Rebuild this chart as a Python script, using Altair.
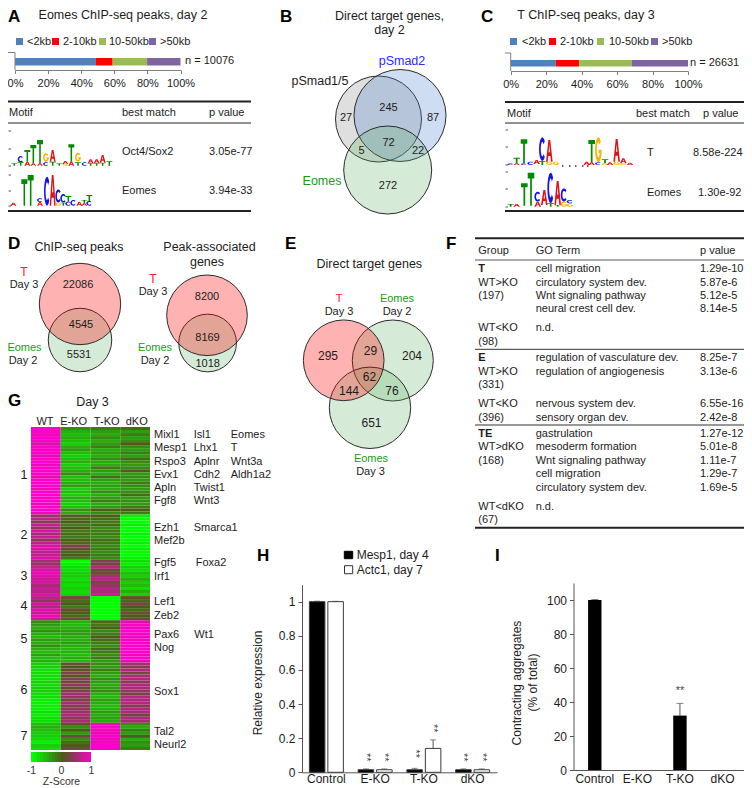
import math
import altair as alt
import pandas as pd

FONT = "Liberation Sans"
INK = "#1c1c1c"
GREY = "#7f7f7f"
AXIS = "#555555"
RED_T = "#ff2020"
GREEN_T = "#1a9a1a"
BLUE_T = "#2a2aff"

# ---------- values ----------
dist_labels = ["<2kb", "2-10kb", "10-50kb", ">50kb"]
dist_colors = ["#4f81bd", "#ff0000", "#9bbb59", "#8064a2"]
dist_eomes = [48.9, 10.1, 20.8, 20.2]
dist_t = [25.4, 13.1, 29.9, 31.6]
pct_ticks = [0, 20, 40, 60, 80, 100]

bar_groups = ["Control", "E-KO", "T-KO", "dKO"]
mesp1 = [1.0, 0.015, 0.015, 0.015]
actc1 = [1.0, 0.015, 0.14, 0.015]
mesp1_err = [1.003, 0.02, 0.023, 0.02]
actc1_err = [1.002, 0.02, 0.19, 0.02]
h_stars_mesp = [None, 0.10, 0.12, 0.10]
h_stars_actc = [None, 0.10, 0.27, 0.10]
contracting = [100, 0, 32, 0]
contracting_err = [100.3, None, 39.2, None]
i_stars = [None, None, 47.6, None]

heat_cols = ["WT", "E-KO", "T-KO", "dKO"]
heat_clusters = [
    # cluster 1
    [[10,10,9,10,10,8,10,10,10,9,10,10,9,10,10,10,8,10,10,10,9,10,10,10,10,9,10,10,9],
     [-3,-5,-6,-5,-6,-7,-5,-4,-6,-7,-6,-5,-7,-6,-5,-3,-6,-6,-5,-4,-7,-6,-7,-5,-6,-7,-6,-3,-5],
     [-2,-4,-5,-3,-5,-4,-2,-5,-4,-5,-3,-5,-5,-2,-4,-5,-1,-4,-5,-4,-5,-3,-5,-4,-2,-5,-4,0,-3],
     [-1,-4,-2,-4,-3,0,-3,-4,-2,-4,-1,-3,-4,-3,1,-4,-3,-4,-2,-3,-4,-3,-1,-4,-3,-4,-2,0,-2]],
    # cluster 2
    [[4,6,3,7,4,8,5,7,3,7,8,8,6,7,8],
     [1,-1,0,-2,0,-2,-1,-2,0,-1,3,1,-1,0,-2],
     [0,-1,-2,-1,-3,-2,-2,-3,-1,-2,-3,-2,-3,-2,-3],
     [-9,-10,-10,-9,-10,-10,-9,-10,-10,-9,-10,-9,-10,-10,-9]],
    # cluster 3
    [[5,4,7,8,9,8,7,8,5,7,6,8],
     [-10,-9,-8,-8,-7,-7,-8,-7,-8,-7,-8,-7],
     [3,2,6,1,2,5,6,2,4,6,5,7],
     [-8,-9,-7,-8,-6,-7,-5,-7,-6,-8,-5,-7]],
    # cluster 4
    [[6,3,7,5,8,6,9,7],
     [2,-1,0,-2,1,0,-1,2],
     [-10,-10,-10,-10,-10,-10,-10,-10],
     [1,-1,2,0,-1,2,0,1]],
    # cluster 5
    [[-3,-4,-5,-3,-5,-6,-4,-5,-3,-5,-6,-4,-6,-5],
     [-5,-6,-5,-4,-4,-5,-5,-4,-5,-6,-5,-6,-5,-6],
     [-1,-2,0,-3,-2,0,-1,-2,-3,-1,-2,-3,-2,-4],
     [8,10,9,10,10,9,10,10,10,10,10,9,10,9]],
    # cluster 6
    [[-7,-7,-8,-8,-8,-8,-7,-8,-7,-7,-8,-8,-9,-9,-9,-9,-8,-9,-8,-8],
     [2,0,1,3,0,3,2,4,1,3,5,4,2,5,3,4,4,6,3,5],
     [-3,-4,-2,-4,-5,-3,-4,-5,-4,-3,-5,-6,-4,-5,-6,-5,-4,-5,-4,-5],
     [5,3,6,2,5,6,3,6,5,4,2,6,5,6,3,6,5,2,6,5]],
    # cluster 7
    [[-6,-5,-6,-7,-7,-8,-9,-7,-8],
     [1,-3,0,-4,2,-3,-1,0,2],
     [9,10,9,9,10,9,9,10,9],
     [-3,-5,-2,-4,0,-5,-3,-4,-2]],
]
colorbar_z = [-1, -.9, -.8, -.7, -.6, -.5, -.4, -.3, -.2, -.1, 0, .1, .2, .3, .4, .5, .6, .7, .8, .9]

venn_b_values = ["27", "245", "87", "72", "5", "22", "272"]
venn_e_values = ["295", "29", "204", "62", "144", "76", "651"]

f_groups = ["T", "WT>KO", "(197)", "WT<KO", "(98)", "E", "WT>KO", "(331)", "WT<KO", "(396)",
            "TE", "WT>dKO", "(168)", "WT<dKO", "(67)"]
f_terms = ["cell migration", "circulatory system dev.", "Wnt signaling pathway", "neural crest cell dev.",
           "n.d.", "regulation of vasculature dev.", "regulation of angiogenesis",
           "nervous system dev.", "sensory organ dev.", "gastrulation", "mesoderm formation",
           "Wnt signaling pathway", "cell migration", "circulatory system dev.", "n.d."]
f_pvalues = ["1.29e-10", "5.87e-6", "5.12e-5", "8.14e-5", "", "8.25e-7", "3.13e-6", "6.55e-16",
             "2.42e-8", "1.27e-12", "5.01e-8", "1.11e-7", "1.29e-7", "1.69e-5", ""]

genes_col1 = ["Mixl1", "Mesp1", "Rspo3", "Evx1", "Apln", "Fgf8", "Ezh1", "Mef2b", "Fgf5", "Irf1",
              "Lef1", "Zeb2", "Pax6", "Nog", "Sox1", "Tal2", "Neurl2"]
genes_col2 = ["Isl1", "Lhx1", "Aplnr", "Cdh2", "Twist1", "Wnt3", "Smarca1", "Foxa2", "Wt1"]
genes_col3 = ["Eomes", "T", "Wnt3a", "Aldh1a2"]

# ---------- layout of the page (reference pixels) ----------
PAGE_W, PAGE_H = 736, 780
CX = alt.Scale(domain=[8, 8 + PAGE_W], range=[0, PAGE_W], nice=False, zero=False)
CY = alt.Scale(domain=[8, 8 + PAGE_H], range=[0, PAGE_H], nice=False, zero=False)


def cx(f="x"):
    return alt.X(f"{f}:Q", scale=CX, axis=None)


def cy(f="y"):
    return alt.Y(f"{f}:Q", scale=CY, axis=None)


text_rows = {}


def txt(labels, xs, ys, size=11, color=INK, align="left", weight="normal", angle=0):
    if isinstance(labels, str):
        labels, xs, ys = [labels], [xs], [ys]
    if not isinstance(xs, (list, tuple)):
        xs = [xs] * len(labels)
    if not isinstance(ys, (list, tuple)):
        ys = [ys] * len(labels)
    for l, x, y in zip(labels, xs, ys):
        text_rows.setdefault((align, weight), []).append(
            dict(t=l, x=x, y=y, fs=size, c=color, a=angle))


segs = []


def seg(x1, y1, x2, y2, color=INK, w=1.0):
    segs.append(dict(x=x1, y=y1, x2=x2, y2=y2, c=color, w=w))


rects = []


def rect(x1, y1, x2, y2, fill, stroke="transparent"):
    rects.append(dict(x=x1, y=y1, x2=x2, y2=y2, c=fill, s=stroke))


# panel letters
for L, x, y in [("A", 8, 17), ("B", 280, 17), ("C", 481, 17), ("D", 8, 244), ("E", 285, 244),
                ("F", 446, 244), ("G", 8, 401), ("H", 257, 556), ("I", 495, 556)]:
    txt(L, x, y, size=17, color="#000000", weight="bold")

# titles
TS = 12.5
txt("Eomes ChIP-seq peaks, day 2", 123, 15, TS, align="center")
txt("T ChIP-seq peaks, day 3", 586, 15, TS, align="center")
txt(["Direct target genes,", "day 2"], 389.5, [16, 30], TS, align="center")
txt("ChIP-seq peaks", 79, 247, TS, align="center")
txt(["Peak-associated", "genes"], [209.5, 207], [247, 262], TS, align="center")
txt("Direct target genes", 369.3, 264, TS, align="center")
txt("Day 3", 92.5, 402, TS, align="center")

# distance legends and brackets of A / C
LS = 11
for xs, lx, ly in [([16, 52, 99, 149], [27, 63, 109, 160], 41.5), ([510, 549, 597, 651], [522, 560, 609, 662], 41.5)]:
    for sx, col in zip(xs, dist_colors):
        rect(sx, ly - 3.5, sx + 7, ly + 3.5, col)
    txt(dist_labels, lx, ly + 0.5, LS)
txt("n = 10076", 185, 61, 11)
txt("n = 26631", 690, 63, 11)
for xa, xb, ya, yb in [(15, 8, 52.5, 70), (510.7, 505, 53, 71)]:
    seg(xb, ya, xa, ya, GREY)
    seg(xa, ya, xa, yb, GREY)

# tables of A / C
for y, w in [(101.5, 2), (123, 1), (211, 2)]:
    seg(8, y, 251, y, "#222222", w)
    seg(505, y + (0.5 if y < 110 else 0), 744, y + (0.5 if y < 110 else 0), "#222222", w)
txt(["Motif", "best match", "p value"], [9, 122, 209], 113, 11)
txt(["Oct4/Sox2", "3.05e-77"], [122, 209], 152, 11)
txt(["Eomes", "3.94e-33"], [122, 209], 191, 11)
txt(["Motif", "best match", "p value"], [507, 636, 703], 114, 11)
txt(["T", "8.58e-224"], [647, 693], 153, 11)
txt(["Eomes", "1.30e-92"], [647, 698], 193, 11)

# venn labels
txt(venn_b_values, [346, 388.5, 433, 388.5, 361.5, 418, 388], [118, 108, 118, 143, 150.5, 150.5, 186], 11, align="center")
txt("pSmad1/5", 320, 81, TS, align="center")
txt("pSmad2", 402, 61, TS, BLUE_T, align="center")
txt("Eomes", 322, 181, TS, GREEN_T, align="center")

txt(["22086", "4545", "5531"], [78, 81, 79], [285, 325, 355], 11, align="center")
txt(["8200", "8169", "1018"], [207, 207.5, 207.7], [297, 338, 364], 11, align="center")
txt("T", 24, 272, 12, RED_T, align="center")
txt(["Day 3", "Day 2"], [24, 23], [285, 361], 11, align="center")
txt("Eomes", 24.5, 348, 11, GREEN_T, align="center")
txt("T", 153, 279, 12, RED_T, align="center")
txt(["Day 3", "Day 2"], [153, 155], [292, 361], 11, align="center")
txt("Eomes", 155, 348, 11, GREEN_T, align="center")

txt(venn_e_values, [328, 370.5, 412, 369.5, 349, 392, 371.5], [356, 351, 356, 376.5, 391, 391, 423], 12, align="center")
txt("T", 339, 299, 11, RED_T, align="center")
txt("Eomes", 397, 299, 11, GREEN_T, align="center")
txt(["Day 3", "Day 2"], [339, 397], 312, 11, align="center")
txt("Eomes", 371, 459, 11, GREEN_T, align="center")
txt("Day 3", 370.5, 472, 11, align="center")

# table F
F_TS = 11
seg(475, 238.3, 744, 238.3, "#222222", 2)
seg(475, 260, 744, 260, "#555555", 1)
seg(475, 349.3, 744, 349.3, "#333333", 1)
seg(475, 425, 744, 425, "#333333", 1.2)
seg(475, 527.7, 744, 527.7, "#222222", 2)
txt(["Group", "GO Term", "p value"], [478.3, 535.7, 700], 250.7, F_TS)
f_group_y = [269.3, 283, 296, 328.3, 341.7, 358.3, 371.7, 385, 404, 417.7, 434, 447.3, 460.7, 506.7, 520]
f_term_y = [269.3, 283, 296, 309.3, 328.3, 358.3, 371.7, 404, 417.7, 434, 447.3, 460.7, 474.3, 487.7, 506.7]
for lab, y in zip(f_groups, f_group_y):
    txt(lab, 478.3, y, F_TS, weight="bold" if lab in ("T", "E", "TE") else "normal")
txt(f_terms, 535.7, f_term_y, F_TS)
txt(f_pvalues, 700, f_term_y, F_TS)

# heatmap labels
txt(heat_cols, [45, 73.7, 106.7, 136.7], 421.7, 11, align="center")
txt(["1", "2", "3", "4", "5", "6", "7"], 24, [475, 535, 575.7, 606, 639, 690, 736], 12.5, align="center")
GS = 11
col1_y = [435, 448.3, 461.7, 475, 488, 501.3, 527.7, 541, 563.3, 576.7, 602.3, 615.7, 634.7, 648.3, 691.7, 731.7, 745.3]
txt(genes_col1, 154, col1_y, GS)
txt(genes_col2, [193.7] * 7 + [195.7, 194.3], [435, 448.3, 461.7, 475, 488, 501.3, 527.7, 563.3, 634.7], GS)
txt(genes_col3, 230.7, [435, 448.3, 461.7, 475], GS)

# panel H / I extras
rect(344.3, 551.3, 352.7, 558.7, "#000000", "#000000")
rect(344.5, 565.7, 352.7, 573.7, "#ffffff", "#333333")
txt(["Mesp1, day 4", "Actc1, day 7"], 356.7, [555, 570], 12)
txt("Relative expression", 258, 683, 12, align="center", angle=270)
txt("Contracting aggregates", 517, 683, 12, align="center", angle=270)
txt("(% of total)", 533, 682.5, 12, align="center", angle=270)


# ---------- sequence logos: glyph outlines stretched to each letter's height ----------
def arc_pts(rx, ry, a0, a1, n=14):
    return [(0.5 + rx * math.cos(math.radians(a0 + (a1 - a0) * i / n)),
             0.5 + ry * math.sin(math.radians(a0 + (a1 - a0) * i / n))) for i in range(n + 1)]


GLYPHS = {
    "T": [[(0, 0), (1, 0), (1, .18), (.63, .18), (.63, 1), (.37, 1), (.37, .18), (0, .18)]],
    "A": [[(.36, 0), (.64, 0), (1, 1), (.75, 1), (.66, .74), (.34, .74), (.25, 1), (0, 1)],
          [(.5, .22), (.4, .56), (.6, .56)]],
    "C": [arc_pts(.5, .5, -42, -318) + arc_pts(.24, .31, -318, -42)],
    "G": [arc_pts(.5, .5, -42, -350) + [(1, .5), (.55, .5), (.55, .64), (.76, .64)] + arc_pts(.24, .31, -340, -42)],
}
LOGO_COL = {"T": "#008a00", "A": "#e01414", "C": "#1414e6", "G": "#ffb000"}


def glyph_path(letter, aspect):
    out = []
    for poly in GLYPHS[letter]:
        pts = [f"{(x - .5) * 2 * aspect:.3f},{(y - .5) * 2:.3f}" for x, y in poly]
        out.append("M" + "L".join(pts) + "Z")
    return "".join(out)


# letter, column centre, top and bottom, in 3x-zoomed reference pixels
logo_a1 = [("T", 43, 190, 197), ("C", 62, 168, 187), ("T", 62, 187, 197), ("T", 82, 150, 185), ("A", 82, 185, 197),
           ("T", 100, 135, 190), ("A", 100, 190, 197), ("T", 120, 120, 190), ("A", 120, 190, 197),
           ("G", 138, 160, 185), ("C", 138, 187, 197), ("A", 158, 150, 185), ("T", 158, 185, 197),
           ("T", 178, 190, 197), ("A", 196, 183, 192), ("G", 196, 192, 197), ("T", 214, 133, 185), ("A", 214, 185, 197),
           ("G", 234, 158, 185), ("T", 234, 187, 197), ("C", 254, 187, 197), ("A", 272, 178, 190), ("T", 272, 190, 197),
           ("A", 290, 178, 190), ("T", 290, 190, 197), ("A", 308, 165, 188), ("T", 308, 188, 197), ("T", 328, 184, 197)]
logo_a2 = [("A", 40, 308, 317), ("T", 73, 238, 317), ("T", 92, 225, 317), ("C", 120, 295, 306), ("A", 120, 306, 317),
           ("C", 141, 230, 317), ("A", 158, 225, 317), ("C", 175, 268, 308), ("G", 175, 308, 317),
           ("C", 190, 282, 308), ("T", 190, 308, 317), ("T", 205, 288, 305), ("C", 205, 305, 317),
           ("C", 220, 300, 317), ("A", 238, 306, 317), ("T", 253, 300, 310), ("A", 253, 310, 317),
           ("T", 268, 285, 303), ("C", 268, 303, 317)]
logo_c1 = [("C", 62, 490, 495), ("T", 80, 473, 490), ("A", 80, 490, 495), ("T", 102, 418, 490), ("C", 102, 490, 495),
           ("C", 122, 485, 495), ("A", 140, 480, 492), ("C", 157, 412, 483), ("T", 157, 483, 495),
           ("A", 178, 420, 485), ("G", 178, 485, 495), ("G", 198, 485, 495),
           ("A", 290, 485, 495), ("T", 305, 420, 487), ("A", 305, 487, 495), ("G", 325, 412, 487), ("C", 325, 487, 495),
           ("T", 345, 478, 490), ("G", 345, 490, 495), ("A", 360, 487, 495), ("A", 380, 417, 485), ("G", 380, 485, 495),
           ("A", 400, 475, 490), ("G", 400, 490, 495), ("A", 420, 488, 495)]
logo_c2 = [("T", 62, 612, 620), ("A", 80, 612, 620), ("T", 103, 550, 617), ("T", 123, 518, 617),
           ("C", 143, 575, 605), ("A", 143, 605, 620), ("A", 163, 570, 615), ("C", 182, 518, 610), ("T", 182, 610, 620),
           ("A", 203, 543, 615), ("T", 203, 615, 620), ("C", 222, 565, 605), ("G", 222, 605, 620),
           ("G", 240, 610, 620), ("C", 240, 600, 610)]

logo_rows = []
for letters, x0, y0, fx in [(logo_a1, 0, 100, 5.9), (logo_a2, 0, 100, 6.0), (logo_c1, 490, 0, 6.6), (logo_c2, 490, 0, 6.6)]:
    for L, xc, top, bot in letters:
        h = max((bot - top) / 3, 1.0)
        logo_rows.append(dict(x=x0 + xc / 3, y=y0 + (top + bot) / 6, path=glyph_path(L, fx / h), s=h * h, c=LOGO_COL[L]))

# small axes beside the logos, and the empty columns of the T motif
for ax, ys in [(10, [131, 149, 166]), (10, [175, 191, 206]), (507, [130, 147, 165]), (507, [172, 189, 207])]:
    for y in ys:
        seg(ax - 1.5, y, ax + 1, y, "#444444", 0.9)
for dx in [562, 569, 575, 582, 587]:
    seg(dx, 166, dx + 1.5, 166, "#333333", 1.4)

# venn circles: centre x, centre y, diameter, fill, fill opacity
venn = [
    (378.5, 119, 86, "#808080", .25), (400, 115.5, 92, "#4f81d0", .27), (387.7, 170, 88, "#5cb060", .25),
    (80, 340, 63.5, "#5cb060", .25), (80, 304, 81.4, "#ff0000", .30),
    (207.6, 343, 57.7, "#5cb060", .25), (207, 315.3, 80.6, "#ff0000", .30),
    (392.8, 360.5, 81, "#5cb060", .25), (370, 407.8, 81.4, "#5cb060", .25), (343.7, 360.3, 80.7, "#ff0000", .30),
]
venn_df = pd.DataFrame([dict(x=a, y=b, s=d * d, c=f, o=o) for a, b, d, f, o in venn])

layers = []

# venns
layers.append(alt.Chart(venn_df).mark_point(filled=True, opacity=1, stroke="#2b2b2b", strokeWidth=1, shape="circle").encode(
    x=cx(), y=cy(), size=alt.Size("s:Q", scale=None),
    color=alt.Color("c:N", scale=None), fillOpacity=alt.FillOpacity("o:Q", scale=None)))


# stacked distance bars
def dist_chart(vals, x0, x1, y0, y1, axis_y):
    rows, s = [], 0
    for v, c in zip(vals, dist_colors):
        rows.append(dict(a=s, b=s + v, y=y0, y2=y1, c=c))
        s += v
    scale = alt.Scale(domain=[0, 100], range=[x0 - 8, x1 - 8], nice=False, zero=False)
    return alt.Chart(pd.DataFrame(rows)).mark_bar().encode(
        x=alt.X("a:Q", scale=scale, axis=alt.Axis(
            orient="bottom", offset=-(PAGE_H - (axis_y - 8)), values=pct_ticks, grid=False, title=None,
            labelExpr="datum.value + '%'", labelFont=FONT, labelFontSize=11, labelColor=INK, labelPadding=4,
            tickSize=3.5, tickColor=GREY, domainColor=GREY, labelOverlap=False, labelFlush=False)),
        x2="b:Q", y=cy(), y2="y2:Q", color=alt.Color("c:N", scale=None))


layers.append(dist_chart(dist_eomes, 15, 180.5, 58, 65.5, 70))
layers.append(dist_chart(dist_t, 510.7, 688, 60, 66.5, 71))

# heatmap
HEAT_COLOR = alt.Scale(domain=[-1, 0, 1], range=["#00ff00", "#4d5a1a", "#ff00cc"], interpolate="rgb")
heat_rows, r = [], 0
for cluster in heat_clusters:
    for i in range(len(cluster[0])):
        for j, col in enumerate(heat_cols):
            heat_rows.append(dict(col=col, row=r, z=cluster[j][i] / 10))
        r += 1
layers.append(alt.Chart(pd.DataFrame(heat_rows)).mark_rect().encode(
    x=alt.X("col:N", sort=heat_cols, axis=None,
            scale=alt.Scale(domain=heat_cols, range=[31 - 8, 150 - 8], paddingInner=0, paddingOuter=0)),
    y=alt.Y("row:O", axis=None,
            scale=alt.Scale(range=[427 - 8, 750 - 8], paddingInner=0, paddingOuter=0)),
    color=alt.Color("z:Q", scale=HEAT_COLOR, legend=None)))

# colour bar with its own z axis
cb_df = pd.DataFrame(dict(z=colorbar_z, z2=[round(v + .1, 2) for v in colorbar_z], y=752, y2=762))
layers.append(alt.Chart(cb_df).mark_rect().encode(
    x=alt.X("z:Q", scale=alt.Scale(domain=[-1, 1], range=[31 - 8, 91 - 8], nice=False, zero=False),
            axis=alt.Axis(orient="bottom", offset=-(PAGE_H - (762 - 8)), values=[-1, 0, 1],
                          labelExpr="'' + datum.value", grid=False,
                          ticks=False, domain=False, labelFont=FONT, labelFontSize=10.5, labelColor="#333333",
                          labelPadding=3, labelFlush=False, title="Z-Score", titleFont=FONT, titleFontSize=10.5,
                          titleFontWeight="normal", titleColor="#333333", titlePadding=1)),
    x2="z2:Q", y=cy(), y2="y2:Q",
    color=alt.Color("z:Q", scale=HEAT_COLOR, legend=None)))

# panel H
H_X = alt.Scale(domain=bar_groups, range=[302 - 8, 497 - 8], paddingInner=0, paddingOuter=0)
H_OFF = alt.Scale(domain=["Mesp1", "Actc1"], paddingInner=.16, paddingOuter=.4)
H_Y = alt.Scale(domain=[0, 1.1], range=[772.3 - 8, 584.6 - 8], nice=False, zero=False)
h_df = pd.DataFrame(
    [dict(g=g, s="Mesp1", v=v, e=e, st=t, c="#000000") for g, v, e, t in zip(bar_groups, mesp1, mesp1_err, h_stars_mesp)] +
    [dict(g=g, s="Actc1", v=v, e=e, st=t, c="#ffffff") for g, v, e, t in zip(bar_groups, actc1, actc1_err, h_stars_actc)])
hx = alt.X("g:N", sort=bar_groups, scale=H_X, axis=None)
hoff = alt.XOffset("s:N", sort=["Mesp1", "Actc1"], scale=H_OFF)
layers.append(alt.Chart(h_df).mark_rule(color=AXIS, strokeWidth=1).encode(
    x=hx, xOffset=hoff, y=alt.Y("v:Q", scale=H_Y, axis=None), y2="e:Q"))
layers.append(alt.Chart(h_df).mark_tick(orient="horizontal", color=AXIS, size=6, thickness=1).encode(
    x=hx, xOffset=hoff, y=alt.Y("e:Q", scale=H_Y, axis=None)))
layers.append(alt.Chart(h_df).mark_bar(stroke="#3a3a3a", strokeWidth=1).encode(
    x=alt.X("g:N", sort=bar_groups, scale=H_X, axis=alt.Axis(
        orient="bottom", offset=-(PAGE_H - 764.3), title=None, labelAngle=0, ticks=False, domainColor=AXIS,
        labelFont=FONT, labelFontSize=12, labelColor=INK, labelPadding=1, grid=False)),
    xOffset=hoff,
    y=alt.Y("v:Q", scale=H_Y, axis=alt.Axis(
        orient="left", offset=-(302 - 8), title=None, values=[0, .2, .4, .6, .8, 1], grid=False,
        labelExpr="datum.value == 0 || datum.value == 1 ? '' + datum.value : format(datum.value, '.1f')",
        labelFont=FONT, labelFontSize=12, labelColor=INK, tickSize=4, tickColor=AXIS, domainColor=AXIS, labelPadding=3)),
    color=alt.Color("c:N", scale=None)))
layers.append(alt.Chart(h_df[h_df.st.notna()]).mark_text(
    text="**", angle=90, font=FONT, fontSize=11, color="#444444", dx=2).encode(
    x=hx, xOffset=hoff, y=alt.Y("st:Q", scale=H_Y, axis=None)))

# panel I
I_X = alt.Scale(domain=bar_groups, range=[573.5 - 8, 743.8 - 8], paddingInner=.685, paddingOuter=.3425)
I_Y = alt.Scale(domain=[0, 110], range=[770 - 8, 583 - 8], nice=False, zero=False)
i_df = pd.DataFrame(dict(g=bar_groups, v=contracting, e=contracting_err))
ix = alt.X("g:N", sort=bar_groups, scale=I_X, axis=None)
i_err = i_df[i_df.e.notna()]
layers.append(alt.Chart(i_err).mark_rule(color=AXIS, strokeWidth=1).encode(
    x=ix, y=alt.Y("v:Q", scale=I_Y, axis=None), y2="e:Q"))
layers.append(alt.Chart(i_err).mark_tick(orient="horizontal", color=AXIS, size=7, thickness=1).encode(
    x=ix, y=alt.Y("e:Q", scale=I_Y, axis=None)))
layers.append(alt.Chart(i_df).mark_bar(color="#000000").encode(
    x=alt.X("g:N", sort=bar_groups, scale=I_X, axis=alt.Axis(
        orient="bottom", offset=-(PAGE_H - 762), title=None, labelAngle=0, ticks=False, domainColor=AXIS,
        labelFont=FONT, labelFontSize=12, labelColor=INK, labelPadding=3, grid=False)),
    y=alt.Y("v:Q", scale=I_Y, axis=alt.Axis(
        orient="left", offset=-(573.5 - 8), title=None, values=[0, 20, 40, 60, 80, 100], grid=False,
        labelFont=FONT, labelFontSize=12, labelColor=INK, tickSize=4, tickColor=AXIS, domainColor=AXIS, labelPadding=3))))
layers.append(alt.Chart(pd.DataFrame(dict(g=bar_groups, st=i_stars)).dropna()).mark_text(
    text="**", font=FONT, fontSize=11, color="#444444", dy=2).encode(
    x=ix, y=alt.Y("st:Q", scale=I_Y, axis=None)))

# logos
layers.append(alt.Chart(pd.DataFrame(logo_rows)).mark_point(filled=True, opacity=1, strokeWidth=0).encode(
    x=cx(), y=cy(), shape=alt.Shape("path:N", scale=None), size=alt.Size("s:Q", scale=None),
    color=alt.Color("c:N", scale=None)))

# swatches, rules, texts
layers.append(alt.Chart(pd.DataFrame(rects)).mark_rect().encode(
    x=cx(), y=cy(), x2="x2:Q", y2="y2:Q", color=alt.Color("c:N", scale=None), stroke=alt.Stroke("s:N", scale=None)))
layers.append(alt.Chart(pd.DataFrame(segs)).mark_rule().encode(
    x=cx(), y=cy(), x2="x2:Q", y2="y2:Q", color=alt.Color("c:N", scale=None), size=alt.Size("w:Q", scale=None)))
for (align, weight), rows in text_rows.items():
    layers.append(alt.Chart(pd.DataFrame(rows)).mark_text(
        align=align, baseline="middle", font=FONT, fontWeight=weight).encode(
        x=cx(), y=cy(), text="t:N", size=alt.Size("fs:Q", scale=None),
        color=alt.Color("c:N", scale=None), angle=alt.Angle("a:Q", scale=None)))

chart = (
    alt.layer(*layers)
    .resolve_scale(x="independent", y="independent", color="independent", size="independent", shape="independent")
    .resolve_axis(x="independent", y="independent")
    .properties(width=PAGE_W, height=PAGE_H, autosize=alt.AutoSizeParams(type="none"), padding=0, background="white")
    .configure_view(stroke=None)
)
chart.save("out.html", embed_options={"renderer": "svg", "actions": False})
